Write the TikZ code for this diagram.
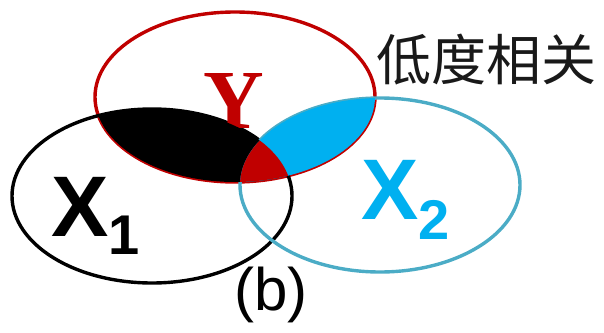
\documentclass[tikz,border=0pt]{standalone}
\usepackage{fontspec}
\setmainfont{Liberation Sans}
\newfontfamily\serifbold{Liberation Serif}
\newfontfamily\cjk{Noto Sans CJK SC}
\definecolor{cred}{HTML}{C00000}
\definecolor{ccyan}{HTML}{00B0F0}
\definecolor{cteal}{HTML}{4BACC6}
\tikzset{
  outline/.style={line width=3.4pt},
  lbl/.style={inner sep=0pt, outer sep=0pt},
}
\begin{document}
\begin{tikzpicture}[x=1pt,y=-1pt]
\useasboundingbox (0,0) rectangle (604,332);
% outlines
\draw[outline, cred] (235,97) ellipse [x radius=140pt, y radius=85pt];
\draw[outline, black] (152,196) ellipse [x radius=140pt, y radius=87pt];
\draw[outline, cteal] (380,185) ellipse [x radius=140pt, y radius=87pt];
% Y label
\node[lbl, anchor=base, text=cred, font={\serifbold\bfseries\fontsize{84}{84}\selectfont}] (ylab) at (234,128) {Y};
% overlap fills
\begin{scope}
  \clip (235,97) ellipse [x radius=140pt, y radius=85pt];
  \fill[black] (152,196) ellipse [x radius=140pt, y radius=87pt];
  \fill[ccyan] (380,185) ellipse [x radius=140pt, y radius=87pt];
  \clip (152,196) ellipse [x radius=140pt, y radius=87pt];
  \fill[cred] (380,185) ellipse [x radius=140pt, y radius=87pt];
\end{scope}
% labels
\node[lbl, anchor=base west, font={\bfseries\fontsize{86}{86}\selectfont}] (x1lab) at (51,236)
  {X\raisebox{-18pt}{\fontsize{56}{56}\selectfont 1}};
\node[lbl, anchor=base west, text=ccyan, font={\bfseries\fontsize{86}{86}\selectfont}] (x2lab) at (361,219)
  {X\raisebox{-20pt}{\fontsize{56}{56}\selectfont 2}};
\node[lbl, text=black!90, font={\cjk\fontsize{55}{55}\selectfont}] (note) at (486,60) {低度相关};
\node[lbl, font={\fontsize{60}{60}\selectfont}] (blab) at (271,295) {(b)};
\end{tikzpicture}
\end{document}
